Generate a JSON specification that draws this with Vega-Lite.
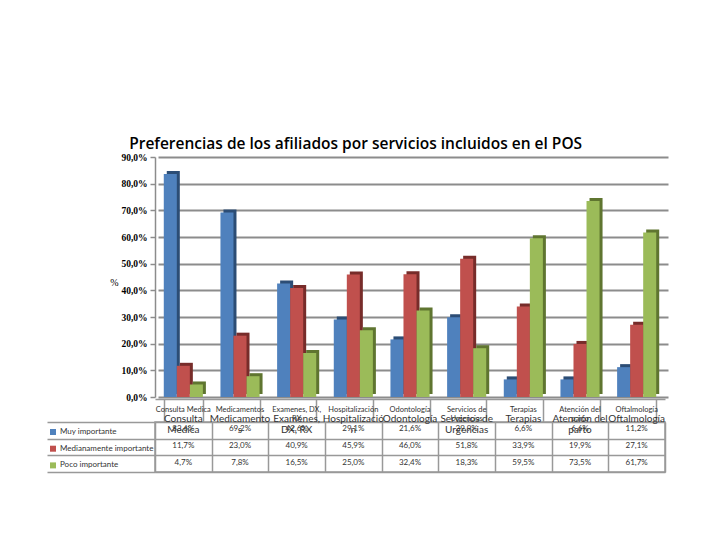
{
  "$schema": "https://vega.github.io/schema/vega-lite/v6.json",
  "title": {
    "text": "Preferencias de los afiliados por servicios incluidos en el POS",
    "font": "Open Sans", "fontSize": 15.5, "fontWeight": 600, "color": "#000000",
    "anchor": "middle", "frame": "bounds", "offset": 0
  },
  "padding": {"left": 45, "top": 136, "right": 5, "bottom": 5},
  "background": "#ffffff",
  "bounds": "flush",
  "spacing": 25,
  "datasets": {
    "values": [
      {"cat": "Consulta Medica", "serie": "Muy importante", "value": 0.836},
      {"cat": "Consulta Medica", "serie": "Medianamente importante", "value": 0.117},
      {"cat": "Consulta Medica", "serie": "Poco importante", "value": 0.047},
      {"cat": "Medicamentos", "serie": "Muy importante", "value": 0.692},
      {"cat": "Medicamentos", "serie": "Medianamente importante", "value": 0.230},
      {"cat": "Medicamentos", "serie": "Poco importante", "value": 0.078},
      {"cat": "Examenes, DX, RX", "serie": "Muy importante", "value": 0.426},
      {"cat": "Examenes, DX, RX", "serie": "Medianamente importante", "value": 0.409},
      {"cat": "Examenes, DX, RX", "serie": "Poco importante", "value": 0.165},
      {"cat": "Hospitalización", "serie": "Muy importante", "value": 0.291},
      {"cat": "Hospitalización", "serie": "Medianamente importante", "value": 0.459},
      {"cat": "Hospitalización", "serie": "Poco importante", "value": 0.250},
      {"cat": "Odontología", "serie": "Muy importante", "value": 0.216},
      {"cat": "Odontología", "serie": "Medianamente importante", "value": 0.460},
      {"cat": "Odontología", "serie": "Poco importante", "value": 0.324},
      {"cat": "Servicios de Urgencias", "serie": "Muy importante", "value": 0.299},
      {"cat": "Servicios de Urgencias", "serie": "Medianamente importante", "value": 0.518},
      {"cat": "Servicios de Urgencias", "serie": "Poco importante", "value": 0.183},
      {"cat": "Terapias", "serie": "Muy importante", "value": 0.066},
      {"cat": "Terapias", "serie": "Medianamente importante", "value": 0.339},
      {"cat": "Terapias", "serie": "Poco importante", "value": 0.595},
      {"cat": "Atención del parto", "serie": "Muy importante", "value": 0.066},
      {"cat": "Atención del parto", "serie": "Medianamente importante", "value": 0.199},
      {"cat": "Atención del parto", "serie": "Poco importante", "value": 0.735},
      {"cat": "Oftalmología", "serie": "Muy importante", "value": 0.112},
      {"cat": "Oftalmología", "serie": "Medianamente importante", "value": 0.271},
      {"cat": "Oftalmología", "serie": "Poco importante", "value": 0.617}
    ],
    "cats": [
      {"cat": "Consulta Medica", "head": ["Consulta Medica"], "big": ["Consulta", "Medica"]},
      {"cat": "Medicamentos", "head": ["Medicamentos"], "big": ["Medicamento", "s"]},
      {"cat": "Examenes, DX, RX", "head": ["Examenes, DX,", "RX"], "big": ["Examenes,", "DX, RX"]},
      {"cat": "Hospitalización", "head": ["Hospitalización"], "big": ["Hospitalizació", "n"]},
      {"cat": "Odontología", "head": ["Odontología"], "big": ["Odontología", ""]},
      {"cat": "Servicios de Urgencias", "head": ["Servicios de", "Urgencias"], "big": ["Servicios de", "Urgencias"]},
      {"cat": "Terapias", "head": ["Terapias"], "big": ["Terapias", ""]},
      {"cat": "Atención del parto", "head": ["Atención del", "parto"], "big": ["Atención del", "parto"]},
      {"cat": "Oftalmología", "head": ["Oftalmología"], "big": ["Oftalmología", ""]}
    ]
  },
  "vconcat": [
    {
      "width": 510,
      "height": 240,
      "view": {"stroke": null},
      "data": {"name": "values"},
      "encoding": {
        "xOffset": {
          "field": "serie", "type": "nominal",
          "sort": ["Muy importante", "Medianamente importante", "Poco importante"],
          "scale": {"paddingInner": 0, "paddingOuter": 0}
        },
        "y": {
          "field": "value", "type": "quantitative",
          "scale": {"domain": [0, 0.9]},
          "axis": {
            "title": "%", "titleAngle": 0, "titleFont": "Liberation Serif", "titleFontSize": 10,
            "titleFontWeight": "normal", "titleColor": "#000000", "titlePadding": 7,
            "titleBaseline": "top",
            "values": [0, 0.1, 0.2, 0.3, 0.4, 0.5, 0.6, 0.7, 0.8, 0.9],
            "format": ".1%",
            "labelFont": "Liberation Serif", "labelFontSize": 9.5, "labelFontWeight": "bold",
            "labelColor": "#000000", "labelPadding": 3,
            "tickSize": 5, "tickColor": "#8c8c8c", "tickWidth": 1.5,
            "domainColor": "#8c8c8c", "domainWidth": 1.5,
            "grid": true, "gridColor": "#8c8c8c", "gridWidth": 1.8
          }
        }
      },
      "layer": [
        {
          "mark": {"type": "bar", "yOffset": -3},
          "encoding": {
            "x": {
              "field": "cat", "type": "nominal", "sort": null,
              "scale": {"paddingInner": 0.31, "paddingOuter": 0.155, "range": [3, 513]},
              "axis": null
            },
            "fill": {
              "field": "serie", "type": "nominal",
              "sort": ["Muy importante", "Medianamente importante", "Poco importante"],
              "scale": {"range": ["#2c4d75", "#772c2a", "#5f7530"]},
              "legend": null
            }
          }
        },
        {
          "mark": {"type": "bar"},
          "encoding": {
            "x": {
              "field": "cat", "type": "nominal", "sort": null,
              "scale": {"paddingInner": 0.31, "paddingOuter": 0.155},
              "axis": {
                "title": null, "labels": false, "tickBand": "extent", "tickSize": 23,
                "tickColor": "#999999", "tickWidth": 1.5, "domainColor": "#999999",
                "domainWidth": 1.5, "offset": 2, "grid": false
              }
            },
            "color": {
              "field": "serie", "type": "nominal",
              "sort": ["Muy importante", "Medianamente importante", "Poco importante"],
              "scale": {"range": ["#4f81bd", "#c0504d", "#9bbb59"]},
              "legend": {
                "title": null, "orient": "none", "legendX": -106, "legendY": 271,
                "symbolType": "square", "symbolSize": 36, "symbolStrokeWidth": 0,
                "labelFont": "Lato", "labelFontSize": 8, "labelColor": "#333333",
                "rowPadding": 8.7, "padding": 0, "labelOffset": 3
              }
            }
          }
        }
      ],
      "resolve": {"scale": {"x": "independent"}}
    },
    {
      "width": 510,
      "height": 50,
      "view": {"stroke": "#999999", "strokeWidth": 1.5},
      "data": {"name": "values"},
      "encoding": {
        "x": {
          "field": "cat", "type": "nominal", "sort": null,
          "axis": {
            "title": null, "labels": false, "ticks": false, "domain": false,
            "grid": true, "tickBand": "extent", "gridColor": "#999999", "gridWidth": 1.5
          }
        },
        "y": {
          "field": "serie", "type": "nominal",
          "sort": ["Muy importante", "Medianamente importante", "Poco importante"],
          "axis": {
            "title": null, "domain": false, "grid": true, "tickBand": "extent",
            "gridColor": "#999999", "gridWidth": 1.5,
            "tickSize": 108, "tickColor": "#999999", "tickWidth": 1.5,
            "labels": false
          }
        }
      },
      "layer": [
        {
          "mark": {"type": "text", "font": "Lato", "fontSize": 8, "color": "#333333", "dy": -1},
          "encoding": {"text": {"field": "value", "type": "quantitative", "format": ".1%"}}
        },
        {
          "data": {"name": "cats"},
          "mark": {"type": "text", "font": "Lato", "fontSize": 10, "color": "#333333", "baseline": "middle", "lineHeight": 11, "dy": -11},
          "encoding": {
            "x": {"field": "cat", "type": "nominal", "sort": null},
            "y": {"datum": "Muy importante"},
            "text": {"field": "big"}
          }
        },
        {
          "data": {"name": "cats"},
          "mark": {"type": "text", "font": "Lato", "fontSize": 7.5, "color": "#333333", "baseline": "top", "lineHeight": 9, "dy": -24},
          "encoding": {
            "x": {"field": "cat", "type": "nominal", "sort": null},
            "y": {"datum": "Muy importante"},
            "text": {"field": "head"}
          }
        }
      ]
    }
  ],
  "config": {
    "locale": {"number": {"decimal": ",", "thousands": ".", "grouping": [3], "currency": ["$", ""]}}
  }
}
